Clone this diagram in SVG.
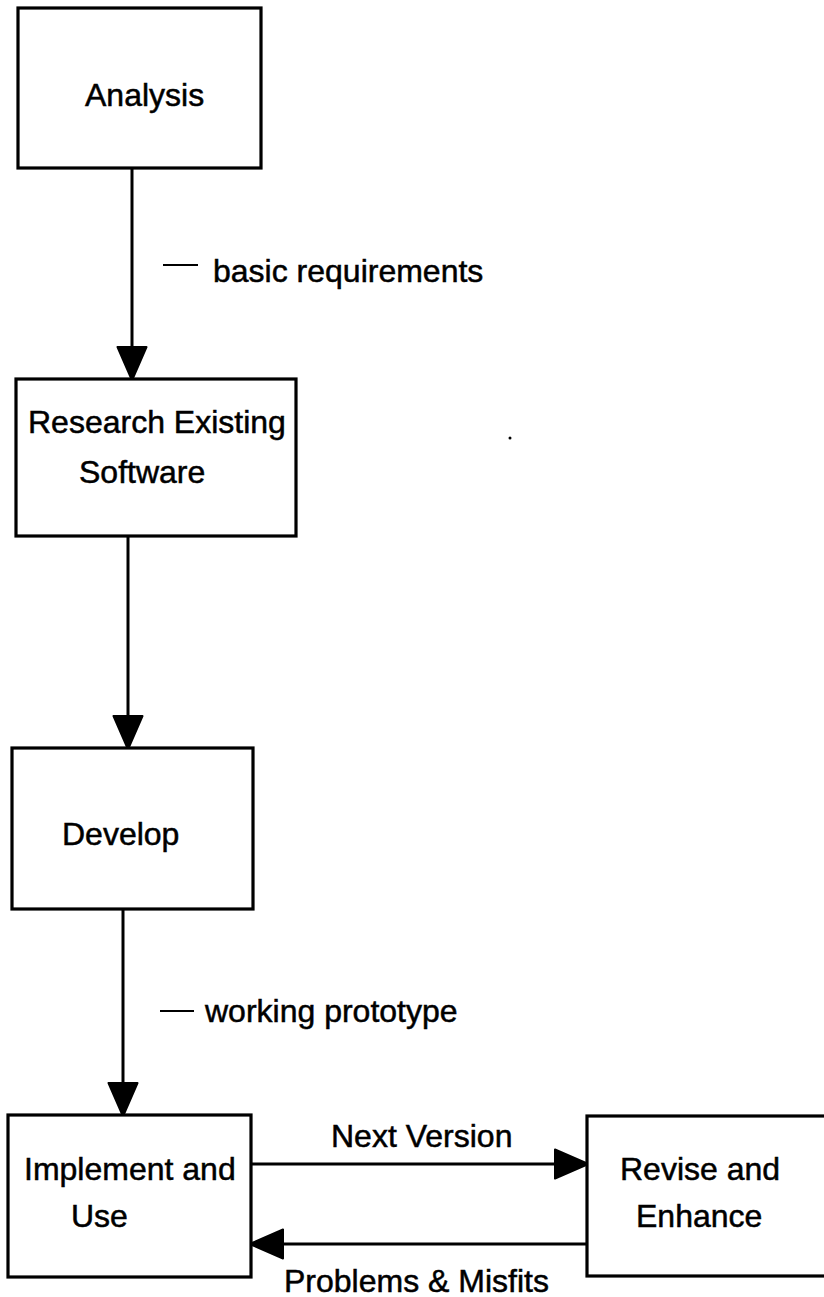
<svg xmlns="http://www.w3.org/2000/svg" width="824" height="1297" viewBox="0 0 824 1297">
  <style>
    .box { fill: #ffffff; stroke: #000000; stroke-width: 3.2; }
    .edge { fill: none; stroke: #000000; stroke-width: 3; }
    .tick { fill: none; stroke: #000000; stroke-width: 2; }
    .label { font-family: "Liberation Sans", Arial, sans-serif; font-size: 32px; fill: #000000; stroke: #000000; stroke-width: 0.5; }
  </style>
  <defs>
    <marker id="head" markerUnits="userSpaceOnUse" markerWidth="34" markerHeight="32" viewBox="0 0 34 32" refX="32" refY="16" orient="auto">
      <path d="M1,1.5 L32,15 L32,17 L1,30.5 Z" fill="#000000" stroke="#000000" stroke-width="2" stroke-linejoin="round"/>
    </marker>
  </defs>
  <rect width="824" height="1297" fill="#ffffff"/>

  <!-- connectors -->
  <g id="connectors">
    <line class="edge" x1="132" y1="168" x2="132" y2="378" marker-end="url(#head)"/>
    <line class="edge" x1="128" y1="536" x2="128" y2="747" marker-end="url(#head)"/>
    <line class="edge" x1="123" y1="909" x2="123" y2="1114" marker-end="url(#head)"/>
    <line class="edge" x1="251" y1="1164" x2="586" y2="1164" marker-end="url(#head)"/>
    <line class="edge" x1="587" y1="1244" x2="252" y2="1244" marker-end="url(#head)"/>
  </g>

  <!-- connector labels -->
  <g id="edge-labels">
    <line class="tick" x1="163" y1="265" x2="198" y2="265"/>
    <text class="label" x="213" y="282">basic requirements</text>
    <line class="tick" x1="160" y1="1011" x2="194" y2="1011"/>
    <text class="label" x="205" y="1022">working prototype</text>
    <text class="label" x="331" y="1147">Next Version</text>
    <text class="label" x="284" y="1292">Problems &amp; Misfits</text>
  </g>

  <!-- nodes -->
  <g id="analysis">
    <rect class="box" x="18" y="8" width="243" height="160"/>
    <text class="label" x="85" y="106">Analysis</text>
  </g>
  <g id="research">
    <rect class="box" x="16" y="379" width="280" height="157"/>
    <text class="label" x="28" y="433">Research Existing</text>
    <text class="label" x="79" y="483">Software</text>
  </g>
  <g id="develop">
    <rect class="box" x="12" y="748" width="241" height="161"/>
    <text class="label" x="62" y="845">Develop</text>
  </g>
  <g id="implement">
    <rect class="box" x="8" y="1115" width="243" height="162"/>
    <text class="label" x="24" y="1180">Implement and</text>
    <text class="label" x="71" y="1227">Use</text>
  </g>
  <g id="revise">
    <rect class="box" x="587" y="1116" width="250" height="160"/>
    <text class="label" x="620" y="1180">Revise and</text>
    <text class="label" x="636" y="1227">Enhance</text>
  </g>

  <!-- stray mark -->
  <circle cx="510" cy="438" r="1.5" fill="#000000"/>
</svg>
